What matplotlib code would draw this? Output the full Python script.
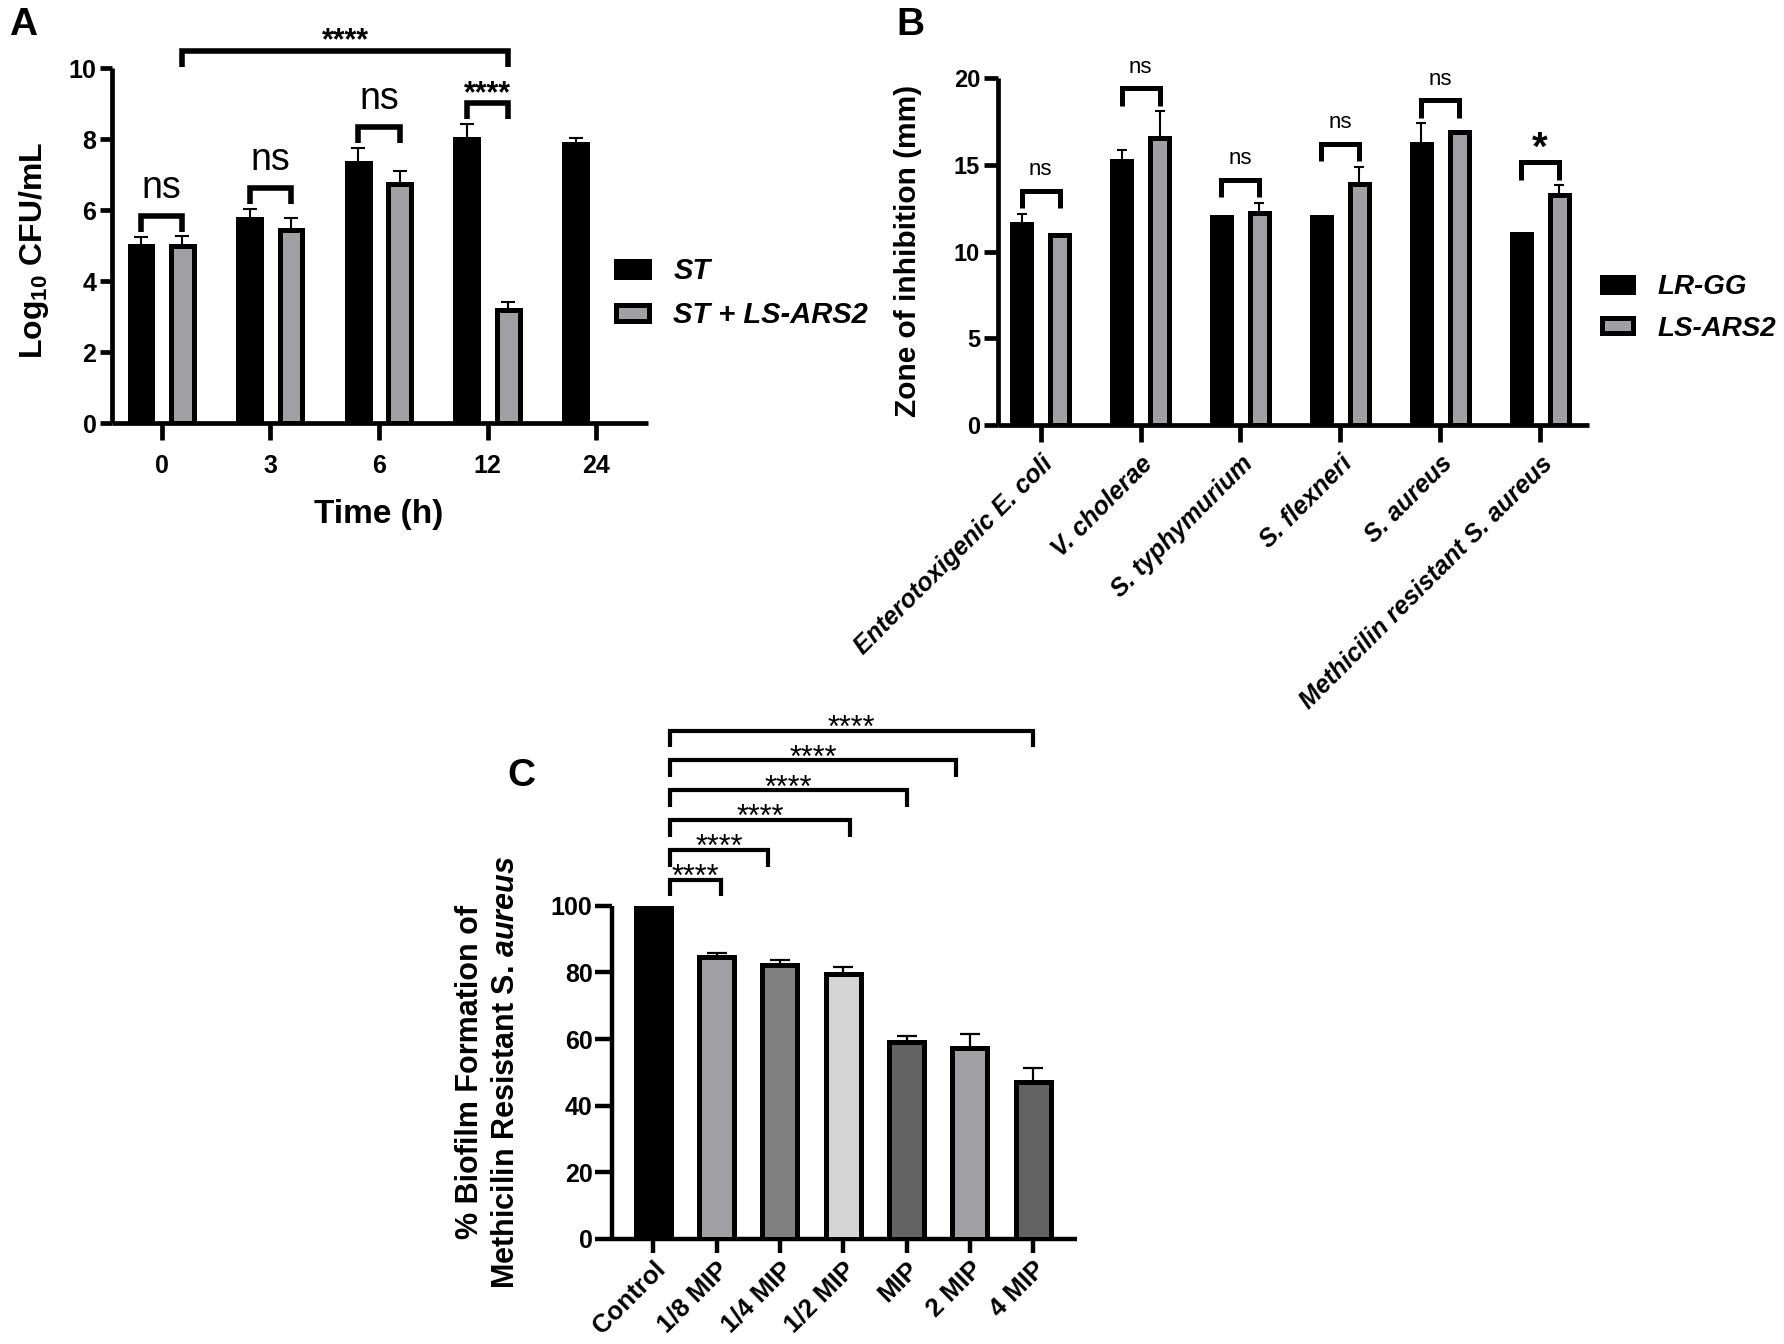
import matplotlib
matplotlib.use('Agg')
import matplotlib.pyplot as plt
import numpy as np

plt.rcParams['font.family'] = ['Liberation Sans', 'DejaVu Sans']
plt.rcParams['mathtext.fontset'] = 'custom'
plt.rcParams['mathtext.rm'] = 'Liberation Sans:bold'
plt.rcParams['mathtext.it'] = 'Liberation Sans:bold:italic'
plt.rcParams['mathtext.bf'] = 'Liberation Sans:bold'

# ---------------- data ----------------
# Panel A
time_labels = ['0', '3', '6', '12', '24']
st_mean = [5.0, 5.75, 7.32, 8.02, 7.87]
st_err = [0.25, 0.30, 0.44, 0.42, 0.18]
stls_mean = [5.0, 5.45, 6.74, 3.18]
stls_err = [0.27, 0.33, 0.38, 0.23]
sig_A = ['ns', 'ns', 'ns', '****']
sig_A_long = '****'

# Panel B
pathogens = ['Enterotoxigenic E. coli', 'V. cholerae', 'S. typhymurium',
             'S. flexneri', 'S. aureus', 'Methicilin resistant S. aureus']
lrgg_mean = [11.6, 15.25, 12.0, 12.0, 16.2, 11.0]
lrgg_err = [0.57, 0.62, 0.0, 0.0, 1.2, 0.0]
lsars_mean = [10.95, 16.55, 12.25, 13.9, 16.9, 13.25]
lsars_err = [0.0, 1.55, 0.58, 1.0, 0.0, 0.58]
sig_B = ['ns', 'ns', 'ns', 'ns', 'ns', '*']

# Panel C
treatments = ['Control', '1/8 MIP', '1/4 MIP', '1/2 MIP', 'MIP', '2 MIP', '4 MIP']
biofilm_mean = [100, 84.5, 82.2, 79.5, 59.0, 57.4, 47.1]
biofilm_err = [0, 1.3, 1.6, 2.0, 2.0, 4.2, 4.2]
biofilm_colors = ['#000000', '#a0a0a4', '#808080', '#d4d4d4', '#636363', '#a0a0a4', '#636363']
sig_C = ['****'] * 6
sig_C_end_shift = [0.07, -0.18, 0.1, 0.0, -0.22, 0.0]

GRAY = '#a0a0a4'
W, H = 1784, 1344
fig = plt.figure(figsize=(W / 100, H / 100), dpi=100)


def fr(x0, y0, x1, y1):
    """pixel box -> figure fraction rect"""
    return [x0 / W, 1 - y1 / H, (x1 - x0) / W, (y1 - y0) / H]


def style_axes(ax, lw):
    for s in ['top', 'right']:
        ax.spines[s].set_visible(False)
    for s in ['left', 'bottom']:
        ax.spines[s].set_linewidth(lw)
        ax.spines[s].set_capstyle('butt')


def bracket(ax, x1, x2, y, h, lw):
    ax.plot([x1, x1, x2, x2], [y - h, y, y, y - h], color='black', lw=lw,
            clip_on=False, solid_capstyle='butt', solid_joinstyle='miter', zorder=5)


# ================= Panel A =================
axA = fig.add_axes(fr(111.7, 68.3, 648.3, 423.3))
style_axes(axA, 3.4)
xA = np.arange(len(time_labels))
offA, wA = 0.19, 0.21
bA1 = axA.bar(xA - offA, st_mean, wA, color='black', edgecolor='black', linewidth=3.6, zorder=3)
bA2 = axA.bar(xA[:len(stls_mean)] + offA, stls_mean, wA, color=GRAY, edgecolor='black',
              linewidth=3.6, zorder=3)
axA.errorbar(xA - offA, st_mean, yerr=[np.zeros(len(st_err)), st_err], fmt='none',
             ecolor='black', elinewidth=1.5, capsize=4.7, capthick=1.5, zorder=2)
axA.errorbar(xA[:len(stls_mean)] + offA, stls_mean, yerr=[np.zeros(len(stls_err)), stls_err],
             fmt='none', ecolor='black', elinewidth=1.5, capsize=4.7, capthick=1.5, zorder=2)
axA.set_xlim(-0.46, 4.48)
axA.set_ylim(0, 10)
axA.set_yticks(np.arange(0, 11, 2))
axA.set_xticks(xA)
axA.set_xticklabels(time_labels)
axA.tick_params(axis='x', length=12, width=3.4, pad=10, labelsize=18)
axA.tick_params(axis='y', length=9, width=3.4, pad=2, labelsize=18)
for t in axA.get_xticklabels() + axA.get_yticklabels():
    t.set_fontweight('bold')

for i, lab in enumerate(sig_A):
    top = max(st_mean[i] + st_err[i], stls_mean[i] + stls_err[i])
    y = top + 0.58
    bracket(axA, xA[i] - offA, xA[i] + offA, y, 0.45, 4.0)
    if lab == 'ns':
        axA.text(xA[i], y + 0.5, lab, ha='center', va='baseline', fontsize=27, clip_on=False)
    else:
        axA.text(xA[i], y + 0.03, lab, ha='center', va='baseline', fontsize=22,
                 fontweight='bold', clip_on=False)
yl = axA.get_ylim()[1] + 0.5
bracket(axA, xA[0] + offA, xA[3] + offA, yl, 0.45, 4.0)
axA.text((xA[0] + xA[3]) / 2 + offA, yl + 0.03, sig_A_long, ha='center', va='baseline',
         fontsize=22, fontweight='bold', clip_on=False)

fig.text(34 / W, 1 - 250 / H, r'Log$_{10}$ CFU/mL', rotation=90, ha='center', va='center',
         fontsize=23, fontweight='bold')
fig.text(379 / W, 1 - 515 / H, 'Time (h)', ha='center', va='center', fontsize=24,
         fontweight='bold')
axA.legend([bA1, bA2], ['ST', 'ST + LS-ARS2'], loc='center left',
           bbox_to_anchor=(615.8 / W, 1 - 293.3 / H), bbox_transform=fig.transFigure,
           frameon=False, borderpad=0, borderaxespad=0, handlelength=1.13, handleheight=0.445,
           handletextpad=0.84, labelspacing=0.55,
           prop=dict(family='Liberation Sans', weight='bold', style='italic', size=21))
fig.text(23 / W, 1 - 25 / H, 'A', ha='center', va='center', fontsize=28, fontweight='bold')

# ================= Panel B =================
axB = fig.add_axes(fr(998.3, 78.3, 1589, 425))
style_axes(axB, 3.4)
xB = np.arange(len(pathogens))
offB, wB = 0.19, 0.19
bB1 = axB.bar(xB - offB, lrgg_mean, wB, color='black', edgecolor='black', linewidth=3.6, zorder=3)
bB2 = axB.bar(xB + offB, lsars_mean, wB, color=GRAY, edgecolor='black', linewidth=3.6, zorder=3)
for xs, m, e in [(xB - offB, lrgg_mean, lrgg_err), (xB + offB, lsars_mean, lsars_err)]:
    e = np.array(e)
    sel = e > 0
    axB.errorbar(np.array(xs)[sel], np.array(m)[sel], yerr=[np.zeros(sel.sum()), e[sel]],
                 fmt='none', ecolor='black', elinewidth=1.5, capsize=3.3, capthick=1.5, zorder=2)
axB.set_xlim(-0.425, 5.49)
axB.set_ylim(0, 20)
axB.set_yticks(np.arange(0, 21, 5))
axB.set_xticks(xB)
axB.set_xticklabels(pathogens, rotation=45, ha='right', va='top', rotation_mode='anchor',
                    fontsize=18, fontweight='bold', fontstyle='italic')
axB.tick_params(axis='x', length=12, width=3.4, pad=7)
axB.tick_params(axis='y', length=10, width=3.4, pad=3, labelsize=17)
for t in axB.get_yticklabels():
    t.set_fontweight('bold')

for i, lab in enumerate(sig_B):
    top = max(lrgg_mean[i] + lrgg_err[i], lsars_mean[i] + lsars_err[i])
    y = top + 1.33
    bracket(axB, xB[i] - offB, xB[i] + offB, y, 1.0, 3.6)
    if lab == 'ns':
        axB.text(xB[i], y + 0.9, lab, ha='center', va='baseline', fontsize=16, clip_on=False)
    else:
        axB.text(xB[i], y + 0.12, lab, ha='center', va='baseline', fontsize=29,
                 fontweight='bold', clip_on=False)

fig.text(908 / W, 1 - 251 / H, 'Zone of inhibition (mm)', rotation=90, ha='center',
         va='center', fontsize=21.5, fontweight='bold')
axB.legend([bB1, bB2], ['LR-GG', 'LS-ARS2'], loc='center left',
           bbox_to_anchor=(1601.5 / W, 1 - 308 / H), bbox_transform=fig.transFigure,
           frameon=False, borderpad=0, borderaxespad=0, handlelength=1.14, handleheight=0.47,
           handletextpad=0.87, labelspacing=0.55,
           prop=dict(family='Liberation Sans', weight='bold', style='italic', size=20))
fig.text(910 / W, 1 - 25 / H, 'B', ha='center', va='center', fontsize=28, fontweight='bold')

# ================= Panel C =================
axC = fig.add_axes(fr(612, 905.7, 1077, 1239))
style_axes(axC, 3.2)
xC = np.arange(len(treatments))
axC.bar(xC, biofilm_mean, 0.553, color=biofilm_colors, edgecolor='black', linewidth=3.6, zorder=3)
errC = np.array(biofilm_err, dtype=float)
selC = errC > 0
axC.errorbar(xC[selC], np.array(biofilm_mean)[selC], yerr=[np.zeros(selC.sum()), errC[selC]],
             fmt='none', ecolor='black', elinewidth=1.6, capsize=7, capthick=1.6, zorder=2)
axC.set_xlim(-0.65, 6.69)
axC.set_ylim(0, 100)
axC.set_yticks(np.arange(0, 101, 20))
axC.set_xticks(xC)
axC.set_xticklabels(treatments, rotation=45, ha='right', va='top', rotation_mode='anchor',
                    fontsize=18.5, fontweight='bold')
axC.tick_params(axis='x', length=10, width=3.2, pad=3)
axC.tick_params(axis='y', length=12, width=3.2, pad=2, labelsize=18)
for t in axC.get_yticklabels():
    t.set_fontweight('bold')

x_start = xC[0] + 0.27
for k, lab in enumerate(sig_C):
    j = k + 1
    y = biofilm_mean[0] + 7.8 + 8.95 * k
    x_end = xC[j] + sig_C_end_shift[k]
    bracket(axC, x_start, x_end, y, 5.0, 3.0)
    axC.text((x_start + x_end) / 2, y - 1.9, lab, ha='center', va='baseline', fontsize=22,
             clip_on=False)

fig.text(488 / W, 1 - 1072 / H,
         '% Biofilm Formation of\nMethicilin Resistant S. $\\mathit{aureus}$',
         rotation=90, ha='center', va='center', fontsize=22, fontweight='bold',
         multialignment='center', linespacing=1.3)
fig.text(521 / W, 1 - 776 / H, 'C', ha='center', va='center', fontsize=28, fontweight='bold')

fig.savefig('out.png', dpi=100, facecolor='white')
